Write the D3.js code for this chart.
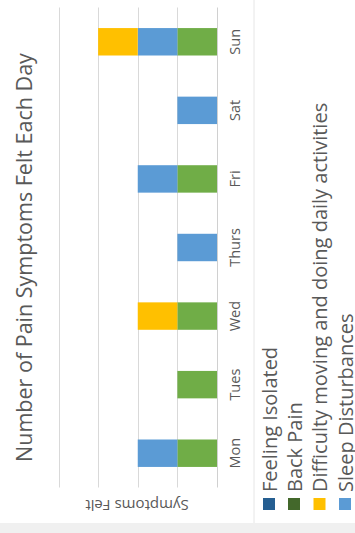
<!DOCTYPE html>
<html>
<head>
<meta charset="utf-8">
<script src="https://cdn.jsdelivr.net/npm/d3@7"></script>
<style>
  html, body { margin: 0; padding: 0; background: #fff; }
  svg { display: block; }
  text { font-family: "Open Sans", sans-serif; fill: #595959; }
</style>
</head>
<body>
<script>
// ---- data ----
const days = ["Mon", "Tues", "Wed", "Thurs", "Fri", "Sat", "Sun"];
const feelingIsolated = [0, 0, 0, 0, 0, 0, 0];
const backPain        = [1, 1, 1, 0, 1, 0, 1];
const sleepDisturb    = [1, 0, 0, 1, 1, 1, 1];
const difficulty      = [0, 0, 1, 0, 0, 0, 1];
const valueTicks = [0, 1, 2, 3, 4];
const legendLabels = ["Feeling Isolated", "Back Pain", "Difficulty moving and doing daily activities", "Sleep Disturbances"];
const title = "Number of Pain Symptoms Felt Each Day";
const axisTitle = "Symptoms Felt";

// stacking order (bottom to top)
const stackKeys = ["Feeling Isolated", "Back Pain", "Sleep Disturbances", "Difficulty moving and doing daily activities"];
const barColors = {
  "Feeling Isolated": "#255E91",
  "Back Pain": "#70AD47",
  "Sleep Disturbances": "#5B9BD5",
  "Difficulty moving and doing daily activities": "#FFC000"
};
const legendColors = ["#255E91", "#43682B", "#FFC000", "#5B9BD5"];

const table = days.map((d, i) => ({
  day: d,
  "Feeling Isolated": feelingIsolated[i],
  "Back Pain": backPain[i],
  "Sleep Disturbances": sleepDisturb[i],
  "Difficulty moving and doing daily activities": difficulty[i]
}));

const W = 355, H = 533;
const svg = d3.select("body").append("svg").attr("width", W).attr("height", H);
svg.append("rect").attr("width", W).attr("height", H).attr("fill", "#fff");
// bottom gray strip
svg.append("rect").attr("x", 0).attr("y", 523).attr("width", W).attr("height", H - 523).attr("fill", "#f0f0f0");

// rotated chart: original chart is H wide and W tall, rotated -90deg
const g = svg.append("g").attr("transform", `translate(0,${H}) rotate(-90)`);

const x = d3.scaleBand().domain(days).range([45.5, 525.5]).paddingInner(0.6).paddingOuter(0.3);
const y = d3.scaleLinear().domain([0, 4]).range([217, 58.5]);

// separator between plot & legend
g.append("line").attr("x1", 10).attr("x2", H).attr("y1", 254).attr("y2", 254)
  .attr("stroke", "#e6e6e6").attr("stroke-width", 1);

// gridlines
g.append("g").selectAll("line").data(valueTicks.filter(v => v > 0)).join("line")
  .attr("x1", 45.5).attr("x2", 525.5)
  .attr("y1", d => Math.round(y(d)) + 0.5).attr("y2", d => Math.round(y(d)) + 0.5)
  .attr("stroke", "#d9d9d9").attr("stroke-width", 1);

// bars
const stack = d3.stack().keys(stackKeys)(table);
g.append("g").selectAll("g").data(stack).join("g")
  .attr("fill", d => barColors[d.key])
  .selectAll("rect").data(d => d.filter(p => p[1] > p[0])).join("rect")
  .attr("x", d => x(d.data.day))
  .attr("width", x.bandwidth())
  .attr("y", d => y(d[1]))
  .attr("height", d => y(d[0]) - y(d[1]));

// category axis
const xAxis = g.append("g").attr("transform", `translate(0,${y(0)})`)
  .call(d3.axisBottom(x).tickSize(0).tickPadding(18));
xAxis.select(".domain").attr("stroke", "#d0d0d0").attr("d", `M45.5,0.5H525.5`);
xAxis.selectAll("text").style("font-size", "14.5px").attr("fill", "#595959").attr("dy", "0.35em").attr("y", 18);

// title
g.append("text").attr("x", 275.5).attr("y", 23).attr("text-anchor", "middle")
  .attr("dominant-baseline", "central").style("font-size", "21.5px").text(title);

// axis title
g.append("text").attr("transform", `translate(27,137) rotate(-90)`)
  .attr("text-anchor", "middle").attr("dominant-baseline", "central")
  .style("font-size", "15px").text(axisTitle);

// legend
const legendY = [269, 294, 319.5, 345];
const lg = g.append("g").selectAll("g").data(legendLabels).join("g")
  .attr("transform", (d, i) => `translate(0,${legendY[i]})`);
lg.append("rect").attr("x", 23).attr("y", -6).attr("width", 12).attr("height", 12)
  .attr("fill", (d, i) => legendColors[i]);
lg.append("text").attr("x", 41).attr("y", 0).attr("dominant-baseline", "central")
  .style("font-size", "20px").text(d => d);
</script>
</body>
</html>
